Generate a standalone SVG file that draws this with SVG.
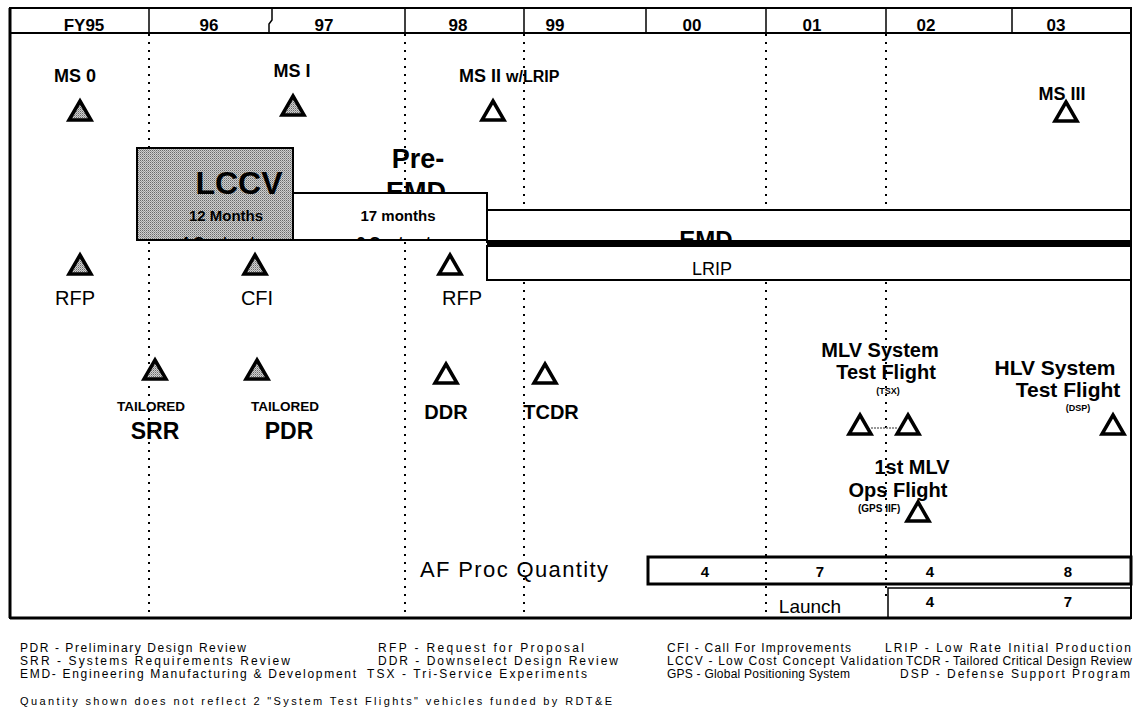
<svg xmlns="http://www.w3.org/2000/svg" width="1134" height="715" viewBox="0 0 1134 715">
<style>
text{font-family:"Liberation Sans",Arial,sans-serif;fill:#000}
.b{font-weight:bold}
.hdr{font-size:17px;font-weight:bold;text-anchor:middle}
.ms{font-size:18px;font-weight:bold;text-anchor:middle}
.c{text-anchor:middle}
.dot{stroke:#000;stroke-width:2;stroke-dasharray:2 6;fill:none}
.tf{fill:url(#stip);stroke:#000;stroke-width:3.5;stroke-linejoin:miter}
.th{fill:#fff;stroke:#000;stroke-width:3.5;stroke-linejoin:miter}
.box{fill:#fff;stroke:#000;stroke-width:2}
.leg{font-size:12px}
</style>
<defs>
<pattern id="stip" width="2" height="2" patternUnits="userSpaceOnUse">
<rect width="2" height="2" fill="#cfcfcf"/>
<rect width="1" height="1" fill="#6a6a6a"/>
<rect x="1" y="1" width="1" height="1" fill="#999"/>
</pattern>
<path id="tri" d="M0,-10 L11,9 L-11,9 Z"/>
<clipPath id="clL"><rect x="137" y="148" width="156" height="92"/></clipPath>
<clipPath id="clP"><rect x="293" y="193" width="194" height="47"/></clipPath>
</defs>
<rect width="1134" height="715" fill="#fff"/>

<g id="grid">
<line class="dot" x1="149" y1="34" x2="149" y2="614"/>
<line class="dot" x1="405" y1="34" x2="405" y2="614"/>
<line class="dot" x1="524" y1="34" x2="524" y2="614"/>
<line class="dot" x1="766" y1="34" x2="766" y2="614"/>
<line class="dot" x1="886" y1="34" x2="886" y2="600"/>
</g>

<g id="frame" fill="none" stroke="#000">
<rect x="10" y="8" width="1121" height="610" stroke-width="2"/>
<line x1="10" y1="8" x2="10" y2="618" stroke-width="3"/>
<line x1="10" y1="618" x2="1131" y2="618" stroke-width="3"/>
<line x1="10" y1="33" x2="1131" y2="33" stroke-width="2"/>
<line x1="149" y1="8" x2="149" y2="33" stroke-width="1.5"/>
<path d="M272,8 V20 L269,24 V33" stroke-width="1.5"/>
<line x1="405" y1="8" x2="405" y2="33" stroke-width="1.5"/>
<line x1="524" y1="8" x2="524" y2="33" stroke-width="1.5"/>
<line x1="646" y1="8" x2="646" y2="33" stroke-width="1.5"/>
<line x1="766" y1="8" x2="766" y2="33" stroke-width="1.5"/>
<line x1="886" y1="8" x2="886" y2="33" stroke-width="1.5"/>
<line x1="1012" y1="8" x2="1012" y2="33" stroke-width="1.5"/>
</g>
<g id="header">
<text class="hdr" x="84" y="31">FY95</text>
<text class="hdr" x="209" y="31">96</text>
<text class="hdr" x="324" y="31">97</text>
<text class="hdr" x="458" y="31">98</text>
<text class="hdr" x="555" y="31">99</text>
<text class="hdr" x="692" y="31">00</text>
<text class="hdr" x="812" y="31">01</text>
<text class="hdr" x="926" y="31">02</text>
<text class="hdr" x="1056" y="31">03</text>
</g>

<g id="ms0"><text class="ms" x="75" y="82">MS 0</text><use href="#tri" class="tf" x="80" y="111"/></g>
<g id="ms1"><text class="ms" x="292" y="77">MS I</text><use href="#tri" class="tf" x="293" y="106"/></g>
<g id="ms2"><text class="ms" x="459" y="82" style="text-anchor:start">MS II <tspan font-size="16">w/LRIP</tspan></text><use href="#tri" class="th" x="493" y="111"/></g>
<g id="ms3"><text class="ms" x="1062" y="100">MS III</text><use href="#tri" class="th" x="1066" y="112"/></g>

<g id="preemd">
<text class="b c" x="418" y="168" font-size="27">Pre-</text>
<text class="b c" x="416" y="201" font-size="27">EMD</text>
</g>
<g id="lccv">
<rect x="137" y="148" width="156" height="92" fill="url(#stip)" stroke="#000" stroke-width="2"/>
<text class="b c" x="239" y="194" font-size="32">LCCV</text>
<text class="b c" x="226" y="221" font-size="15">12 Months</text>
<text class="b c" x="222" y="247" font-size="15" clip-path="url(#clL)">4 Contracts</text>
</g>
<g id="preemdbox">
<rect class="box" x="293" y="193" width="194" height="47"/>
<text class="b c" x="398" y="221" font-size="15">17 months</text>
<text class="b c" x="398" y="247" font-size="15" clip-path="url(#clP)">2 Contracts</text>
</g>
<g id="emd">
<rect class="box" x="487" y="210" width="644" height="32"/>
<text class="b c" x="706" y="248" font-size="24">EMD</text>
<rect x="487" y="240" width="644" height="6" fill="#000"/>
</g>
<g id="lrip">
<rect class="box" x="487" y="246" width="644" height="34"/>
<text class="c" x="712" y="275" font-size="18">LRIP</text>
</g>

<g id="rfp1"><use href="#tri" class="tf" x="80" y="265"/><text class="c" x="75" y="305" font-size="20">RFP</text></g>
<g id="cfi"><use href="#tri" class="tf" x="255" y="265"/><text class="c" x="257" y="305" font-size="20">CFI</text></g>
<g id="rfp2"><use href="#tri" class="th" x="450" y="265"/><text class="c" x="462" y="305" font-size="20">RFP</text></g>

<g id="srr"><use href="#tri" class="tf" x="155" y="370"/><text class="b c" x="151" y="411" font-size="13.5">TAILORED</text><text class="b c" x="155" y="439" font-size="23">SRR</text></g>
<g id="pdr"><use href="#tri" class="tf" x="257" y="370"/><text class="b c" x="285" y="411" font-size="13.5">TAILORED</text><text class="b c" x="289" y="439" font-size="23">PDR</text></g>
<g id="ddr"><use href="#tri" class="th" x="446" y="374"/><text class="b c" x="446" y="419" font-size="20">DDR</text></g>
<g id="tcdr"><use href="#tri" class="th" x="545" y="374"/><text class="b c" x="551" y="419" font-size="20">TCDR</text></g>

<g id="connectors">
<line x1="871" y1="428" x2="897" y2="428" stroke="#777" stroke-width="1.5" stroke-dasharray="2 1"/>
</g>

<g id="mlv">
<text class="b c" x="880" y="357" font-size="20">MLV System</text>
<text class="b c" x="886" y="379" font-size="20">Test Flight</text>
<text class="b c" x="888" y="394" font-size="9">(TSX)</text>
<use href="#tri" class="th" x="860" y="425"/>
<use href="#tri" class="th" x="908" y="425"/>
</g>
<g id="hlv">
<text class="b c" x="1055" y="375" font-size="21">HLV System</text>
<text class="b c" x="1068" y="397" font-size="21">Test Flight</text>
<text class="b c" x="1078" y="411" font-size="9">(DSP)</text>
<use href="#tri" class="th" x="1113" y="425"/>
</g>
<g id="gps">
<text class="b c" x="912" y="474" font-size="20">1st MLV</text>
<text class="b c" x="898" y="497" font-size="20">Ops Flight</text>
<text class="b" x="858" y="512" font-size="10">(GPS IIF)</text>
<use href="#tri" class="th" x="918" y="512"/>
</g>

<g id="afproc">
<text x="420" y="577" font-size="22" textLength="188">AF Proc Quantity</text>
<rect x="648" y="557" width="483" height="27" fill="none" stroke="#000" stroke-width="3"/>
<text class="b c" x="705" y="577" font-size="15">4</text>
<text class="b c" x="820" y="577" font-size="15">7</text>
<text class="b c" x="930" y="577" font-size="15">4</text>
<text class="b c" x="1068" y="577" font-size="15">8</text>
</g>
<g id="launch">
<text class="c" x="810" y="613" font-size="19">Launch</text>
<rect x="888" y="588" width="243" height="30" fill="none" stroke="#000" stroke-width="1.5"/>
<text class="b c" x="930" y="607" font-size="15">4</text>
<text class="b c" x="1068" y="607" font-size="15">7</text>
</g>

<g id="legend" class="leg">
<text x="20" y="652" textLength="226">PDR - Preliminary Design Review</text>
<text x="20" y="665" textLength="270">SRR - Systems Requirements Review</text>
<text x="20" y="678" textLength="336">EMD- Engineering Manufacturing &amp; Development</text>
<text x="378" y="652" textLength="206">RFP - Request for Proposal</text>
<text x="378" y="665" textLength="240">DDR - Downselect Design Review</text>
<text x="367" y="678" textLength="220">TSX - Tri-Service Experiments</text>
<text x="667" y="652" textLength="184">CFI - Call For Improvements</text>
<text x="667" y="665" textLength="236">LCCV - Low Cost Concept Validation</text>
<text x="667" y="678" textLength="183">GPS - Global Positioning System</text>
<text x="885" y="652" textLength="246">LRIP - Low Rate Initial Production</text>
<text x="906" y="665" textLength="226">TCDR - Tailored Critical Design Review</text>
<text x="900" y="678" textLength="230">DSP - Defense Support Program</text>
<text x="20" y="705" font-size="11" textLength="592">Quantity shown does not reflect 2 "System Test Flights" vehicles funded by RDT&amp;E</text>
</g>
</svg>
